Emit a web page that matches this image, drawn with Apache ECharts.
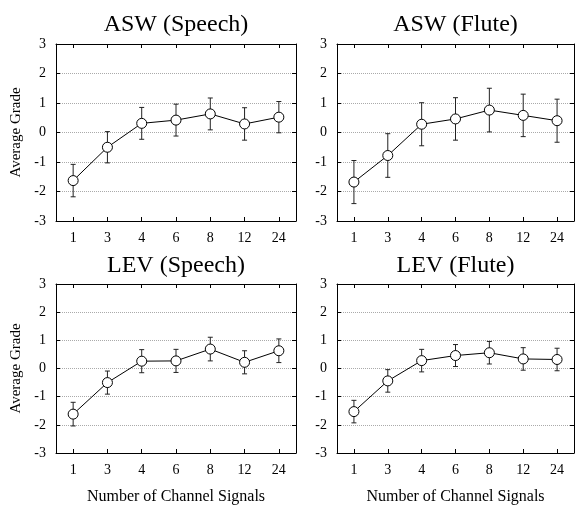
<!DOCTYPE html>
<html><head><meta charset="utf-8">
<script src="https://cdn.jsdelivr.net/npm/echarts@6/dist/echarts.min.js"></script>
<style>html,body{margin:0;padding:0;background:#fff}#c{width:575px;height:506px}</style>
</head><body><div id="c"></div>
<script>
const categories = ['1','3','4','6','8','12','24'];
const panelTitles = ['ASW (Speech)','ASW (Flute)','LEV (Speech)','LEV (Flute)'];
const yLabel = 'Average Grade';
const xLabel = 'Number of Channel Signals';
const aswSpeechMean = [-1.63,-0.50,0.31,0.42,0.63,0.29,0.52];
const aswSpeechErr  = [0.55,0.53,0.54,0.54,0.54,0.55,0.53];
const aswFluteMean  = [-1.68,-0.78,0.28,0.46,0.76,0.58,0.40];
const aswFluteErr   = [0.73,0.74,0.73,0.72,0.74,0.72,0.73];
const levSpeechMean = [-1.62,-0.50,0.26,0.27,0.69,0.22,0.63];
const levSpeechErr  = [0.42,0.41,0.41,0.41,0.42,0.41,0.42];
const levFluteMean  = [-1.53,-0.44,0.28,0.46,0.56,0.34,0.32];
const levFluteErr   = [0.40,0.40,0.40,0.39,0.40,0.40,0.40];

const means = [aswSpeechMean, aswFluteMean, levSpeechMean, levFluteMean];
const errs = [aswSpeechErr, aswFluteErr, levSpeechErr, levFluteErr];

const FONT = '"Liberation Serif", "Times New Roman", serif';
const grids = [
  {left:56, top:44, width:240, height:177},
  {left:337, top:44, width:237, height:177},
  {left:56, top:284, width:240, height:177},
  {left:337, top:284, width:237, height:177}
];
const black = '#000';
const xAxes = [], yAxes = [], series = [], graphics = [];
grids.forEach((g, i) => {
  const bottomRow = i >= 2;
  const leftCol = i % 2 === 0;
  xAxes.push({
    gridIndex:i, type:'category', data:categories, boundaryGap:true, position:'bottom',
    axisLine:{show:true, onZero:false, lineStyle:{color:black, width:1}},
    axisTick:{show:true, inside:true, alignWithLabel:true, length:4, lineStyle:{color:black}},
    axisLabel:{fontFamily:FONT, fontSize:14, color:black, margin:10},
    name: bottomRow ? xLabel : '', nameLocation:'middle', nameGap:36,
    nameTextStyle:{fontFamily:FONT, fontSize:16, color:black}
  });
  xAxes.push({
    gridIndex:i, type:'category', data:categories, boundaryGap:true, position:'top',
    axisLine:{show:true, onZero:false, lineStyle:{color:black, width:1}},
    axisTick:{show:true, inside:true, alignWithLabel:true, length:4, lineStyle:{color:black}},
    axisLabel:{show:false}
  });
  yAxes.push({
    gridIndex:i, type:'value', min:-3, max:3, interval:1, position:'left',
    axisLine:{show:true, lineStyle:{color:black, width:1}},
    axisTick:{show:true, inside:true, length:4, lineStyle:{color:black}},
    axisLabel:{fontFamily:FONT, fontSize:14, color:black, margin:10},
    splitLine:{show:true, lineStyle:{color:'#aaa', type:'dotted', width:1}},
    name: leftCol ? yLabel : '', nameLocation:'middle', nameGap:32, nameRotate:90,
    nameTextStyle:{fontFamily:FONT, fontSize:15, color:black}
  });
  yAxes.push({
    gridIndex:i, type:'value', min:-3, max:3, interval:1, position:'right',
    axisLine:{show:true, lineStyle:{color:black, width:1}},
    axisTick:{show:true, inside:true, length:4, lineStyle:{color:black}},
    axisLabel:{show:false}, splitLine:{show:false}
  });
  const m = means[i], e = errs[i];
  series.push({
    type:'custom', xAxisIndex:2*i, yAxisIndex:2*i, z:2,
    data: categories.map((c, k) => [k, m[k] - e[k], m[k] + e[k]]),
    encode:{x:0, y:[1,2]},
    renderItem:(params, api) => {
      const x = api.value(0);
      const lo = api.coord([x, api.value(1)]);
      const hi = api.coord([x, api.value(2)]);
      const cap = 2.5;
      const st = {stroke:'#222', lineWidth:1};
      return {type:'group', children:[
        {type:'line', shape:{x1:lo[0], y1:lo[1], x2:hi[0], y2:hi[1]}, style:st},
        {type:'line', shape:{x1:lo[0]-cap, y1:lo[1], x2:lo[0]+cap, y2:lo[1]}, style:st},
        {type:'line', shape:{x1:hi[0]-cap, y1:hi[1], x2:hi[0]+cap, y2:hi[1]}, style:st}
      ]};
    }
  });
  series.push({
    type:'line', xAxisIndex:2*i, yAxisIndex:2*i, z:3, data:m,
    symbol:'circle', symbolSize:10, showSymbol:true,
    lineStyle:{color:black, width:1},
    itemStyle:{color:'#fff', borderColor:black, borderWidth:1},
    emphasis:{disabled:true}
  });
  graphics.push({
    type:'text', x: g.left + g.width/2, y: i < 2 ? 25 : 266,
    style:{text: panelTitles[i], fill:black, font:'24px ' + FONT, align:'center', verticalAlign:'middle'}
  });
});

const chart = echarts.init(document.getElementById('c'), null, {renderer:'canvas'});
chart.setOption({
  animation:false,
  backgroundColor:'#fff',
  grid: grids,
  xAxis: xAxes,
  yAxis: yAxes,
  series: series,
  graphic: graphics
});
</script>
</body></html>
